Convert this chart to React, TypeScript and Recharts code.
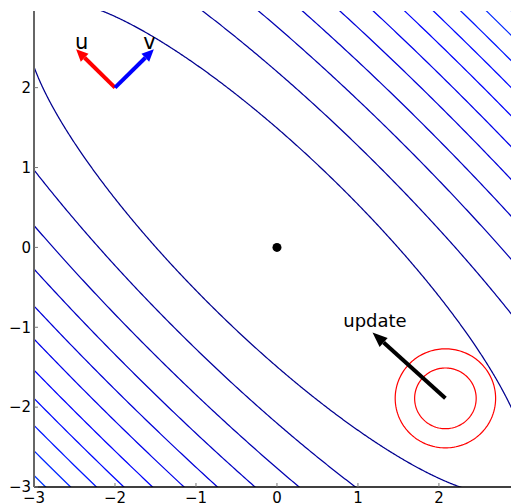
import { LineChart, Line, XAxis, YAxis, ReferenceLine, ReferenceDot } from 'recharts';

// axis ranges (the figure is cropped on the top and right)
const X_MIN = -3;
const X_MAX = 2.89;
const Y_MIN = -3;
const Y_MAX = 2.96;
const xTicks = [-3, -2, -1, 0, 1, 2];
const yTicks = [-3, -2, -1, 0, 1, 2];

// f(p) = curvatureU * (u.p)^2 + curvatureV * (v.p)^2, u = (-1,1)/√2, v = (1,1)/√2
const curvatureU = 0.0557;
const curvatureV = 0.84;
const contourLevels = [1.0, 2.17, 3.42, 4.7, 6.0, 7.32, 8.7, 10.08, 11.5, 12.93, 14.4];
const contourColors = [
  '#00008f', '#00009e', '#0000b2', '#0000c4', '#0000d8', '#0000ea',
  '#0000fc', '#0008ff', '#0018ff', '#0028ff', '#0038ff',
];

const circleCenter = { x: 2.08, y: -1.89 };
const circleRadii = [0.38, 0.62];
const minimumPoint = { x: 0, y: 0 };

const updateArrow = [{ x: 2.08, y: -1.89 }, { x: 1.18, y: -1.065 }];
const uArrow = [{ x: -2, y: 2 }, { x: -2.48, y: 2.48 }];
const vArrow = [{ x: -2, y: 2 }, { x: -1.52, y: 2.48 }];

const labelNames = ['u', 'v', 'update'];
const labelX = [-2.41, -1.575, 1.21];
const labelY = [2.485, 2.485, -1.0];

const SQ2 = Math.SQRT2;

// contour ellipse for a given level, in (s along v, t along u) coordinates
const ellipse = (level: number) => {
  const rs = Math.sqrt(level / curvatureV);
  const rt = Math.sqrt(level / curvatureU);
  const pts = [];
  const n = 1440;
  for (let i = 0; i <= n; i++) {
    const th = (i / n) * Math.PI * 2;
    const s = rs * Math.cos(th);
    const t = rt * Math.sin(th);
    pts.push({ x: (s - t) / SQ2, y: (s + t) / SQ2 });
  }
  return pts;
};

const circle = (r: number) => {
  const pts = [];
  const n = 180;
  for (let i = 0; i <= n; i++) {
    const th = (i / n) * Math.PI * 2;
    pts.push({ x: circleCenter.x + r * Math.cos(th), y: circleCenter.y + r * Math.sin(th) });
  }
  return pts;
};

const contours = contourLevels.map(ellipse);
const circles = circleRadii.map(circle);

const FONT = 'DejaVu Sans';
const fmt = (v: number) => String(v).replace('-', '\u2212');

const arrowShape = (color: string, width: number, headLen: number, headWidth: number) => (props: any) => {
  const { x1, y1, x2, y2 } = props;
  const dx = x2 - x1;
  const dy = y2 - y1;
  const len = Math.hypot(dx, dy);
  const ux = dx / len;
  const uy = dy / len;
  const bx = x2 - ux * headLen;
  const by = y2 - uy * headLen;
  const px = (-uy * headWidth) / 2;
  const py = (ux * headWidth) / 2;
  return (
    <g>
      <line x1={x1} y1={y1} x2={bx} y2={by} stroke={color} strokeWidth={width} />
      <polygon points={`${x2},${y2} ${bx + px},${by + py} ${bx - px},${by - py}`} fill={color} />
    </g>
  );
};

const textShape = (text: string, size: number) => (props: any) => (
  <text x={props.cx} y={props.cy} textAnchor="middle" fontFamily={FONT} fontSize={size} fill="#000">
    {text}
  </text>
);

export default function App() {
  return (
    <div style={{ position: 'absolute', left: 0, top: 0, width: 511, height: 504, background: '#fff' }}>
      <LineChart width={511} height={504} margin={{ top: 11, right: 0, bottom: 0, left: 0 }}>
        <XAxis
          type="number"
          dataKey="x"
          domain={[X_MIN, X_MAX]}
          allowDataOverflow
          ticks={xTicks}
          tickFormatter={fmt}
          height={17}
          tickSize={-4}
          tickMargin={9}
          axisLine={{ stroke: '#000', strokeWidth: 1.3 }}
          tickLine={{ stroke: '#777' }}
          tick={{ fill: '#000', fontSize: 15, fontFamily: FONT }}
        />
        <XAxis
          xAxisId="top"
          orientation="top"
          type="number"
          dataKey="x"
          domain={[X_MIN, X_MAX]}
          allowDataOverflow
          ticks={xTicks}
          tickFormatter={() => ''}
          height={0}
          tickSize={-4}
          axisLine={{ stroke: '#000', strokeWidth: 1 }}
          tickLine={{ stroke: '#777' }}
        />
        <YAxis
          type="number"
          dataKey="y"
          domain={[Y_MIN, Y_MAX]}
          allowDataOverflow
          ticks={yTicks}
          tickFormatter={fmt}
          width={34}
          tickSize={-4}
          tickMargin={7}
          axisLine={{ stroke: '#666', strokeWidth: 2 }}
          tickLine={{ stroke: '#777' }}
          tick={{ fill: '#000', fontSize: 15, fontFamily: FONT }}
        />
        {contours.map((pts, i) => (
          <Line
            key={`c${i}`}
            data={pts}
            dataKey="y"
            type="linear"
            stroke={contourColors[i]}
            strokeWidth={1.25}
            dot={false}
            isAnimationActive={false}
          />
        ))}
        {circles.map((pts, i) => (
          <Line
            key={`r${i}`}
            data={pts}
            dataKey="y"
            type="linear"
            stroke="#ff0000"
            strokeWidth={1.2}
            dot={false}
            isAnimationActive={false}
          />
        ))}
        <ReferenceLine segment={updateArrow} ifOverflow="visible" shape={arrowShape('#000', 4, 15, 12)} />
        <ReferenceLine segment={uArrow} ifOverflow="visible" shape={arrowShape('#ff0000', 4, 12, 11)} />
        <ReferenceLine segment={vArrow} ifOverflow="visible" shape={arrowShape('#0000ff', 4, 12, 11)} />
        <ReferenceDot x={minimumPoint.x} y={minimumPoint.y} r={4.5} fill="#000" stroke="none" />
        {labelNames.map((name, i) => (
          <ReferenceDot
            key={name}
            x={labelX[i]}
            y={labelY[i]}
            r={0}
            ifOverflow="visible"
            shape={textShape(name, name === 'update' ? 18 : 21)}
          />
        ))}
      </LineChart>
    </div>
  );
}
